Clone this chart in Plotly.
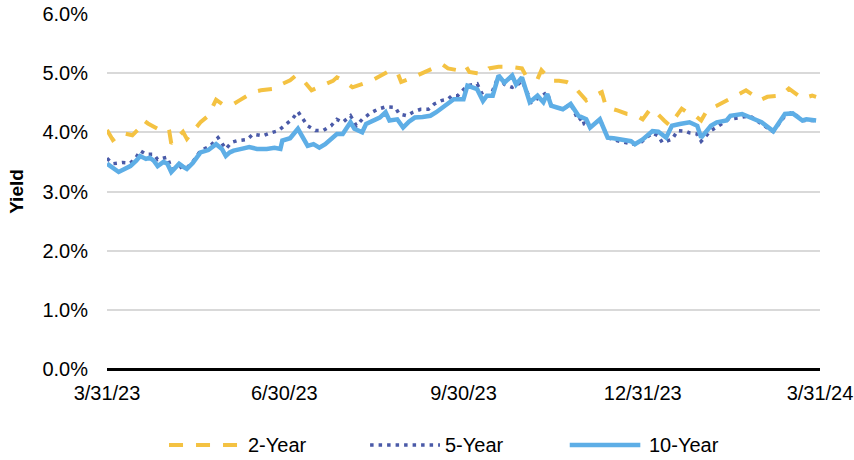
import pandas as pd
import plotly.graph_objects as go

start = pd.Timestamp("2023-03-31")

# Days after 3/31/23 and yields (%)
days_2y = [0, 3, 8, 13, 16, 19, 21, 24, 26, 28, 32, 33, 36, 39, 41, 44, 48, 52, 56, 60,
           65, 68, 72, 75, 79, 84, 87, 90, 94, 97, 101, 105, 109, 113, 116, 118, 121, 126, 131, 135,
           139, 144, 149, 151, 155, 159, 164, 168, 172, 175, 180, 184, 186, 190, 193, 196, 201, 207, 211, 213,
           215, 218, 221, 223, 226, 228, 232, 236, 239, 242, 246, 249, 252, 254, 256, 259, 262, 267, 271, 275,
           279, 283, 286, 289, 290, 295, 299, 302, 305, 308, 313, 318, 323, 328, 332, 335, 339, 343, 346, 350,
           354, 357, 362, 364]
y2 = [4.04, 3.87, 3.99, 3.95, 4.05, 4.20, 4.15, 4.10, 4.06, 3.98, 4.01, 3.81, 3.92, 4.01, 3.89, 4.00, 4.17, 4.28, 4.55, 4.46,
      4.48, 4.54, 4.62, 4.68, 4.71, 4.72, 4.74, 4.82, 4.88, 4.96, 4.87, 4.71, 4.77, 4.82, 4.87, 4.93, 4.88, 4.76, 4.82, 4.86,
      4.93, 5.02, 5.02, 4.85, 4.90, 4.96, 5.02, 5.08, 5.15, 5.08, 5.05, 5.13, 5.02, 5.00, 4.99, 5.08, 5.11, 5.11, 5.10, 5.08,
      4.96, 4.93, 4.90, 5.05, 4.95, 4.87, 4.87, 4.85, 4.80, 4.68, 4.54, 4.60, 4.65, 4.68, 4.45, 4.40, 4.37, 4.31, 4.30, 4.22,
      4.40, 4.30, 4.20, 4.11, 4.17, 4.40, 4.31, 4.28, 4.20, 4.37, 4.45, 4.54, 4.62, 4.71, 4.62, 4.54, 4.60, 4.62, 4.62, 4.74,
      4.65, 4.57, 4.62, 4.60]

days_5y = [0, 3, 8, 12, 15, 17, 20, 24, 26, 31, 33, 36, 39, 41, 44, 48, 53, 57, 61, 64,
           67, 72, 75, 80, 84, 88, 92, 95, 98, 101, 103, 107, 111, 115, 118, 121, 125, 128, 131, 135,
           139, 143, 148, 150, 154, 157, 161, 165, 168, 172, 175, 177, 180, 185, 190, 193, 197, 201, 204, 208,
           211, 213, 218, 222, 226, 228, 234, 238, 242, 244, 245, 248, 253, 257, 263, 270, 274, 280, 283, 285,
           290, 293, 297, 299, 303, 305, 310, 314, 319, 325, 330, 336, 342, 348, 352, 357, 364]
y5 = [3.56, 3.47, 3.49, 3.48, 3.58, 3.69, 3.63, 3.63, 3.54, 3.58, 3.38, 3.38, 3.43, 3.40, 3.50, 3.69, 3.77, 3.91, 3.72, 3.83,
      3.86, 3.88, 3.97, 3.94, 3.99, 4.03, 4.14, 4.22, 4.35, 4.22, 4.11, 4.03, 4.03, 4.11, 4.22, 4.17, 4.28, 4.11, 4.22, 4.32,
      4.39, 4.43, 4.42, 4.31, 4.28, 4.34, 4.39, 4.39, 4.48, 4.54, 4.56, 4.62, 4.62, 4.79, 4.82, 4.62, 4.62, 4.96, 4.81, 4.76,
      4.81, 4.87, 4.51, 4.59, 4.68, 4.45, 4.39, 4.48, 4.20, 4.25, 4.14, 4.08, 4.22, 3.91, 3.85, 3.80, 3.83, 3.99, 3.94, 3.83,
      3.88, 4.03, 4.02, 3.99, 3.97, 3.85, 4.03, 4.11, 4.22, 4.25, 4.28, 4.14, 4.01, 4.28, 4.34, 4.20, 4.20]

days_10y = [0, 3, 6, 9, 12, 15, 17, 20, 22, 24, 26, 29, 31, 33, 35, 37, 39, 41, 44, 48,
            52, 56, 59, 61, 63, 65, 69, 73, 77, 82, 86, 89, 90, 94, 98, 101, 103, 106, 109, 112,
            114, 118, 121, 125, 127, 131, 133, 137, 140, 143, 145, 149, 152, 155, 158, 162, 166, 169, 174, 178,
            183, 185, 190, 193, 195, 198, 201, 204, 208, 210, 213, 217, 221, 224, 226, 228, 231, 234, 238, 242,
            246, 248, 253, 257, 260, 263, 266, 269, 271, 275, 280, 283, 287, 290, 294, 299, 303, 305, 310, 313,
            318, 320, 326, 331, 336, 342, 345, 348, 352, 357, 359, 364]
y10 = [3.47, 3.40, 3.33, 3.38, 3.43, 3.52, 3.60, 3.55, 3.57, 3.52, 3.43, 3.50, 3.47, 3.33, 3.40, 3.47, 3.42, 3.38, 3.48, 3.66,
       3.70, 3.80, 3.72, 3.60, 3.66, 3.69, 3.72, 3.75, 3.72, 3.72, 3.74, 3.72, 3.86, 3.90, 4.06, 3.90, 3.77, 3.80, 3.74, 3.80,
       3.86, 3.97, 3.97, 4.17, 4.06, 4.00, 4.14, 4.20, 4.25, 4.34, 4.20, 4.22, 4.08, 4.18, 4.25, 4.26, 4.28, 4.34, 4.45, 4.56,
       4.56, 4.79, 4.73, 4.53, 4.62, 4.62, 4.96, 4.84, 4.96, 4.81, 4.93, 4.51, 4.62, 4.51, 4.65, 4.45, 4.42, 4.39, 4.48, 4.28,
       4.22, 4.08, 4.22, 3.91, 3.90, 3.88, 3.87, 3.85, 3.80, 3.88, 4.02, 4.01, 3.91, 4.11, 4.14, 4.17, 4.11, 3.91, 4.11, 4.17,
       4.20, 4.28, 4.31, 4.25, 4.17, 4.02, 4.15, 4.31, 4.32, 4.20, 4.22, 4.20]

series_names = ["2-Year", "5-Year", "10-Year"]
tick_dates = ["2023-03-31", "2023-06-30", "2023-09-30", "2023-12-31", "2024-03-31"]
tick_labels = ["3/31/23", "6/30/23", "9/30/23", "12/31/23", "3/31/24"]
y_ticks = [0, 0.01, 0.02, 0.03, 0.04, 0.05, 0.06]


def to_dates(days):
    return [start + pd.Timedelta(days=d) for d in days]


def to_frac(vals):
    return [v / 100 for v in vals]


FONT = "Liberation Sans, Arial, sans-serif"
FS = 20
styles = [
    dict(color="#F4C242", width=4, dash="14px,13px"),
    dict(color="#4A5AA8", width=3.5, dash="3.5px,5px"),
    dict(color="#5EAEE6", width=4.5),
]

fig = go.Figure()
for name, days, vals, st in zip(series_names, [days_2y, days_5y, days_10y], [y2, y5, y10], styles):
    fig.add_trace(go.Scatter(x=to_dates(days), y=to_frac(vals), name=name, mode="lines",
                             line=st, showlegend=False))

# custom legend (long line samples like the original)
leg_y = -0.214
sample_x = [(0.087, 0.189), (0.369, 0.467), (0.649, 0.748)]
text_x = [0.195, 0.471, 0.757]
for name, st, (x0, x1), tx in zip(series_names, styles, sample_x, text_x):
    fig.add_shape(type="line", xref="paper", yref="paper", x0=x0, x1=x1, y0=leg_y, y1=leg_y,
                  line=st)
    fig.add_annotation(xref="paper", yref="paper", x=tx, y=leg_y, text=name, showarrow=False,
                       xanchor="left", yanchor="middle", font=dict(size=FS))

fig.update_layout(
    width=854, height=460,
    margin=dict(l=107, r=34, t=14, b=91, autoexpand=False),
    paper_bgcolor="white", plot_bgcolor="white",
    font=dict(family=FONT, size=FS, color="#000000"),
    showlegend=False,
)
fig.update_xaxes(
    range=[pd.Timestamp("2023-03-31"), pd.Timestamp("2024-03-31")],
    tickvals=[pd.Timestamp(d) for d in tick_dates], ticktext=tick_labels,
    showgrid=False, showline=False, zeroline=False,
    ticks="outside", ticklen=6, tickcolor="rgba(0,0,0,0)", tickangle=0,
    tickfont=dict(size=FS), automargin=False,
)
fig.update_yaxes(
    range=[0, 0.06], tickvals=y_ticks, tickformat=".1%",
    showgrid=True, gridcolor="#D9D9D9", gridwidth=1.5,
    zeroline=True, zerolinecolor="#000000", zerolinewidth=3,
    showline=False,
    ticks="outside", ticklen=14, tickcolor="rgba(0,0,0,0)",
    tickfont=dict(size=FS), automargin=False,
    title=dict(text="<b>Yield</b>", font=dict(size=19), standoff=13),
)

fig.write_html("out.html", config={"displayModeBar": False},
               post_script="document.body.style.margin='0px';")
